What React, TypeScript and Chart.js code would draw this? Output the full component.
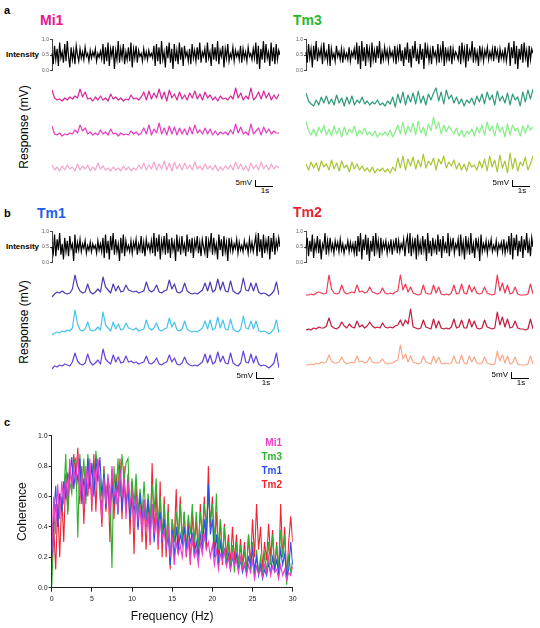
import React, { useEffect, useRef } from "react";
import { Chart, registerables } from "chart.js";
Chart.register(...registerables);

const FONT = "'Liberation Sans', Arial, Helvetica, sans-serif";

// ---------- intensity stimulus traces (0..1) ----------
const intensityMi1 = [
  0.55,0.2,0.8,0.35,0.7,0.15,0.9,0.4,0.6,0.25,0.85,0.3,0.95,0.45,0.1,0.75,0.35,0.65,0.2,0.8,
  0.5,0.3,0.7,0.4,0.6,0.35,0.75,0.45,0.55,0.3,0.65,0.4,0.6,0.45,0.7,0.3,0.55,0.42,0.62,0.38,
  0.85,0.2,0.75,0.3,0.9,0.15,0.7,0.45,0.8,0.05,0.65,0.35,0.95,0.25,0.7,0.4,0.85,0.2,0.6,0.35,
  0.75,0.3,0.9,0.1,0.7,0.4,0.8,0.25,0.65,0.45,0.55,0.3,0.7,0.4,0.6,0.35,0.65,0.45,0.55,0.4,
  0.8,0.15,0.85,0.3,0.75,0.2,0.95,0.35,0.6,0.1,0.8,0.4,0.9,0.25,0.7,0.05,0.85,0.3,0.65,0.2,
  0.9,0.35,0.75,0.15,0.8,0.45,0.6,0.3,0.7,0.2,0.85,0.4,0.65,0.3,0.75,0.35,0.9,0.25,0.6,0.45,
  0.7,0.25,0.9,0.4,0.6,0.15,0.85,0.35,0.75,0.3,0.95,0.2,0.65,0.45,0.8,0.1,0.7,0.4,0.85,0.3,
  0.55,0.4,0.75,0.3,0.65,0.45,0.6,0.35,0.8,0.25,0.7,0.4,0.6,0.3,0.75,0.45,0.55,0.35,0.7,0.4,
  0.9,0.2,0.8,0.05,0.7,0.35,0.95,0.25,0.85,0.4,0.6,0.15,0.9,0.3,0.75,0.2,0.85,0.35,0.65,0.5,
];
const intensityTm3 = [
  0.6,0.25,0.85,0.4,0.7,0.1,0.8,0.35,0.95,0.3,0.65,0.45,0.75,0.2,0.9,0.4,0.6,0.3,0.85,0.15,
  0.7,0.4,0.55,0.3,0.8,0.45,0.6,0.35,0.7,0.25,0.65,0.4,0.55,0.35,0.75,0.3,0.6,0.45,0.7,0.35,
  0.9,0.2,0.8,0.05,0.95,0.3,0.75,0.15,0.85,0.4,0.7,0.1,0.9,0.35,0.65,0.25,0.8,0.4,0.95,0.2,
  0.6,0.35,0.75,0.4,0.65,0.3,0.7,0.45,0.6,0.35,0.8,0.2,0.7,0.4,0.85,0.3,0.65,0.15,0.75,0.35,
  0.9,0.25,0.7,0.1,0.8,0.4,0.95,0.3,0.6,0.2,0.85,0.35,0.7,0.05,0.9,0.4,0.75,0.3,0.65,0.2,
  0.8,0.45,0.6,0.3,0.85,0.25,0.7,0.4,0.95,0.15,0.75,0.35,0.65,0.3,0.8,0.2,0.7,0.4,0.6,0.5,
  0.35,0.8,0.2,0.9,0.4,0.7,0.1,0.85,0.3,0.65,0.45,0.95,0.25,0.75,0.35,0.6,0.15,0.8,0.4,0.7,
  0.3,0.65,0.45,0.75,0.35,0.6,0.4,0.7,0.3,0.8,0.45,0.65,0.25,0.7,0.4,0.6,0.35,0.75,0.3,0.6,
  0.9,0.15,0.75,0.4,0.95,0.2,0.8,0.05,0.7,0.35,0.85,0.25,0.9,0.4,0.65,0.1,0.8,0.35,0.7,0.55,
];
const intensityTm1 = [
  0.5,0.3,0.9,0.2,0.75,0.4,0.95,0.25,0.6,0.1,0.8,0.35,0.7,0.2,0.85,0.45,0.6,0.05,0.9,0.3,
  0.65,0.4,0.75,0.35,0.6,0.45,0.7,0.3,0.55,0.4,0.65,0.35,0.6,0.45,0.55,0.3,0.7,0.4,0.6,0.35,
  0.8,0.15,0.9,0.3,0.7,0.1,0.85,0.4,0.95,0.25,0.75,0.35,0.6,0.05,0.8,0.3,0.9,0.2,0.7,0.4,
  0.55,0.35,0.7,0.3,0.65,0.45,0.75,0.25,0.6,0.4,0.85,0.3,0.65,0.2,0.75,0.45,0.6,0.35,0.7,0.3,
  0.95,0.2,0.8,0.35,0.9,0.1,0.7,0.4,0.85,0.25,0.95,0.3,0.75,0.15,0.8,0.4,0.65,0.05,0.9,0.35,
  0.7,0.25,0.85,0.4,0.6,0.2,0.9,0.35,0.75,0.3,0.8,0.15,0.7,0.45,0.85,0.3,0.65,0.2,0.75,0.5,
  0.3,0.85,0.15,0.7,0.45,0.95,0.25,0.8,0.35,0.6,0.1,0.9,0.4,0.75,0.2,0.85,0.35,0.65,0.05,0.8,
  0.4,0.7,0.35,0.6,0.45,0.75,0.3,0.65,0.4,0.55,0.35,0.7,0.45,0.6,0.3,0.75,0.4,0.65,0.35,0.6,
  0.85,0.2,0.95,0.35,0.75,0.15,0.9,0.3,0.7,0.4,0.85,0.1,0.8,0.35,0.95,0.25,0.7,0.45,0.8,0.5,
];
const intensityTm2 = [
  0.45,0.8,0.2,0.7,0.35,0.9,0.15,0.65,0.4,0.85,0.3,0.75,0.1,0.6,0.45,0.95,0.25,0.7,0.35,0.8,
  0.4,0.6,0.3,0.7,0.45,0.65,0.35,0.75,0.4,0.6,0.3,0.55,0.45,0.7,0.35,0.65,0.4,0.6,0.3,0.7,
  0.2,0.85,0.35,0.95,0.1,0.75,0.4,0.9,0.25,0.8,0.05,0.7,0.35,0.85,0.2,0.95,0.4,0.7,0.15,0.8,
  0.35,0.65,0.45,0.7,0.3,0.6,0.4,0.75,0.25,0.65,0.45,0.8,0.3,0.7,0.35,0.6,0.45,0.75,0.2,0.65,
  0.85,0.3,0.95,0.2,0.7,0.4,0.8,0.1,0.9,0.35,0.65,0.25,0.85,0.4,0.75,0.05,0.95,0.3,0.7,0.2,
  0.8,0.4,0.65,0.25,0.9,0.35,0.75,0.15,0.85,0.4,0.6,0.3,0.95,0.2,0.7,0.45,0.8,0.3,0.6,0.45,
  0.75,0.2,0.9,0.35,0.65,0.1,0.85,0.4,0.7,0.25,0.95,0.3,0.6,0.15,0.8,0.45,0.7,0.05,0.9,0.35,
  0.6,0.4,0.7,0.3,0.65,0.45,0.75,0.35,0.55,0.4,0.7,0.3,0.6,0.45,0.65,0.35,0.75,0.3,0.6,0.4,
  0.85,0.25,0.95,0.1,0.8,0.4,0.9,0.2,0.7,0.35,0.85,0.15,0.75,0.4,0.95,0.3,0.65,0.2,0.8,0.5,
];

// ---------- membrane responses (mV, relative) ----------
const mi1Resp1 = [14,6,4,5,3,6,4,7,5,8,6,15,7,12,5,6,3,7,4,8,4,6,3,10,5,7,4,6,3,5,4,9,5,6,4,7,
  12,4,13,5,11,6,15,5,12,3,14,6,10,4,12,5,9,4,11,6,13,5,10,4,12,
  6,9,4,7,3,8,5,6,4,8,5,16,6,11,4,8,5,16,4,7,12,5,13,6,11,4,9,5,10];
const mi1Resp2 = [13,5,4,6,3,5,4,6,5,9,6,14,8,11,5,7,4,6,4,9,5,7,4,10,5,6,3,6,4,5,4,8,5,7,4,6,
  11,5,14,4,10,6,16,5,11,4,13,5,12,4,11,5,10,4,12,5,14,6,9,5,11,
  5,10,4,8,4,7,5,7,4,9,5,15,6,12,5,7,4,15,5,8,11,4,12,6,10,5,8,6,6];
const mi1Resp3 = [9,4,7,3,8,4,9,5,7,3,10,4,8,5,9,3,7,4,11,5,8,4,6,3,7,4,6,3,8,4,7,3,6,4,9,5,
  11,4,9,5,12,4,10,5,13,4,11,3,12,5,10,4,11,5,9,4,12,5,8,4,10,
  5,8,4,9,3,7,4,8,5,9,4,12,5,10,4,8,3,11,5,9,4,12,5,9,4,10,5,8,6];

const tm3Resp1 = [16,8,5,3,9,4,12,6,13,5,10,4,14,6,11,3,12,5,13,4,9,6,12,5,8,4,7,5,9,4,6,3,8,5,12,2,
  15,6,17,4,14,7,16,5,18,6,13,4,15,9,16,21,8,17,5,19,10,14,
  6,12,5,10,3,9,6,11,4,13,7,15,
  5,17,9,14,4,18,8,13,6,16,4,15,9,12,3,17,7,19,10,20];
const tm3Resp2 = [20,10,6,12,5,14,8,16,6,12,5,15,7,13,4,14,6,12,8,15,5,11,7,13,6,9,5,10,4,8,6,9,5,11,4,9,
  16,7,19,6,15,9,18,6,20,8,14,5,17,10,24,12,19,7,16,9,15,11,
  7,13,5,11,4,10,7,12,5,14,8,16,
  6,19,10,15,5,18,9,14,4,17,6,16,10,13,5,15,8,16,11,14];
const tm3Resp3 = [12,6,14,8,13,5,15,9,12,6,16,7,13,5,15,8,11,4,14,7,12,6,10,5,8,4,9,3,7,5,8,4,7,3,9,5,
  18,8,20,6,17,10,19,7,16,9,22,8,15,11,18,6,17,12,20,8,14,10,
  16,7,13,6,12,5,14,9,11,6,15,8,
  17,5,20,9,16,4,21,8,15,3,23,7,18,5,14,10,19,6,12,20];

const tm1Resp1 = [2,5,7,6,8,6,5,6,10,24,13,8,6,7,15,7,5,7,10,7,22,12,9,6,15,8,13,7,8,14,
  9,8,7,8,6,7,8,17,9,7,9,14,7,6,8,9,19,10,15,7,6,8,16,8,6,5,6,5,7,9,
  16,8,17,7,9,20,9,17,8,7,18,8,6,5,8,21,9,8,16,8,16,7,5,6,5,3,5,8,17,4];
const tm1Resp2 = [1,3,4,3,5,4,6,5,8,26,12,6,5,7,14,6,5,6,9,6,24,11,8,5,14,7,12,6,7,13,
  8,7,6,8,5,6,7,16,8,6,8,13,6,5,7,8,18,9,14,6,5,7,15,7,5,4,5,4,6,8,
  15,7,16,6,8,19,8,16,7,6,17,7,5,4,7,20,8,7,15,7,15,6,4,5,4,2,4,7,16,3];
const tm1Resp3 = [2,5,4,6,5,7,6,5,9,18,10,7,6,8,17,9,6,8,11,7,22,12,9,7,16,9,14,8,9,15,
  9,10,8,9,7,8,9,15,8,7,9,13,7,6,8,9,16,9,13,7,6,8,14,8,6,5,6,5,7,9,
  17,8,16,7,9,19,9,15,8,7,18,8,6,5,8,20,9,8,17,8,15,7,5,6,5,3,5,8,18,3];

const tm2Resp1 = [2,2,3,2,4,5,4,3,4,22, 8,4,3,4,12,5,3,4,5,4, 12,5,6,4,5,10,5,4,3,4,
  9,4,3,4,3,5,6,22,7,13, 5,10,4,3,2,3,12,4,3,3, 12,4,10,3,2,3,2,4,12,3,
  4,13,4,3,12,5,10,4,3,4, 10,4,3,2,3,22,6,14,4,12, 3,4,10,3,2,2,2,3,13,3];
const tm2Resp2 = [2,3,2,4,3,5,4,4,6,14, 6,4,3,5,10,6,4,8,5,4, 11,5,7,4,6,10,6,4,5,4,
  9,5,4,5,4,6,7,12,6,12, 8,23,5,4,3,4,12,5,4,3, 13,4,11,4,3,4,3,5,13,4,
  5,12,4,4,13,5,11,4,3,4, 12,5,4,3,4,20,7,15,5,13, 4,5,11,4,3,3,2,3,13,3];
const tm2Resp3 = [2,2,3,2,4,3,5,4,5,12, 6,4,4,5,10,5,3,4,5,4, 11,5,6,4,5,10,5,4,4,5,
  8,4,3,4,4,6,7,22,8,13, 5,11,5,4,3,4,11,5,4,3, 11,4,10,4,3,4,3,4,11,4,
  4,12,4,3,11,5,10,4,3,4, 10,4,3,2,3,16,6,12,4,11, 3,4,10,3,2,2,2,3,11,3];

// ---------- coherence (0..30 Hz, 0.25 Hz bins) ----------
const cohMi1 = [0.25,0.6,0.35,0.68,0.45,0.7,0.55,0.72,0.6,
  0.85,0.65,0.78,0.7,0.88,0.6,0.75,0.52, 0.8,0.62,0.85,0.55,0.78,0.68,0.84,0.6,
  0.45,0.72,0.55,0.75,0.48,0.8,0.6,0.65, 0.5,0.78,0.6,0.72,0.45,0.7,0.55,0.62,
  0.4,0.6,0.45,0.55,0.35,0.58,0.4,0.5, 0.3,0.55,0.35,0.48,0.28,0.45,0.32,0.38,
  0.25,0.4,0.2,0.35,0.15,0.3,0.22,0.28, 0.2,0.35,0.22,0.3,0.18,0.32,0.2,0.25,
  0.15,0.3,0.22,0.35,0.25,0.3,0.2,0.28, 0.15,0.25,0.12,0.22,0.18,0.24,0.14,0.2,
  0.12,0.22,0.15,0.18,0.1,0.2,0.12,0.16, 0.08,0.15,0.1,0.18,0.06,0.14,0.09,0.12,
  0.07,0.15,0.1,0.2,0.08,0.14,0.1,0.12, 0.06,0.15,0.08,0.12,0.05,0.1,0.08,0.14];
const cohTm1 = [0.2,0.45,0.67,0.4,0.62,0.5,0.7,0.58,0.75,
  0.72,0.86,0.65,0.8,0.7,0.85,0.55,0.72, 0.6,0.85,0.65,0.82,0.6,0.85,0.7,0.86,
  0.6,0.75,0.52,0.72,0.5,0.68,0.55,0.7, 0.48,0.78,0.5,0.7,0.55,0.65,0.45,0.62,
  0.5,0.6,0.38,0.62,0.45,0.55,0.4,0.58, 0.35,0.55,0.3,0.48,0.4,0.5,0.3,0.45,
  0.25,0.35,0.15,0.38,0.2,0.4,0.25,0.35, 0.28,0.4,0.25,0.38,0.3,0.35,0.22,0.3,
  0.2,0.35,0.25,0.45,0.3,0.68,0.35,0.45, 0.2,0.35,0.15,0.3,0.2,0.25,0.15,0.22,
  0.12,0.2,0.15,0.22,0.12,0.18,0.1,0.15, 0.1,0.2,0.15,0.25,0.12,0.2,0.08,0.15,
  0.06,0.12,0.08,0.16,0.1,0.2,0.12,0.18, 0.1,0.25,0.15,0.22,0.08,0.12,0.3,0.15];
const cohTm3 = [0.0,0.35,0.55,0.42,0.62,0.5,0.6,0.88,0.48,
  0.7,0.62,0.82,0.85,0.33,0.88,0.6,0.85, 0.55,0.88,0.7,0.8,0.62,0.9,0.75,0.72,
  0.5,0.78,0.6,0.72,0.65,0.13,0.8,0.55, 0.85,0.6,0.88,0.7,0.82,0.85,0.5,0.72,
  0.55,0.75,0.5,0.65,0.48,0.7,0.45,0.62, 0.45,0.68,0.5,0.72,0.42,0.6,0.35,0.55,
  0.3,0.5,0.15,0.45,0.3,0.5,0.35,0.55, 0.3,0.5,0.25,0.48,0.35,0.55,0.3,0.5,
  0.25,0.5,0.35,0.55,0.4,0.6,0.45,0.55, 0.3,0.62,0.25,0.45,0.2,0.4,0.15,0.3,
  0.12,0.28,0.1,0.3,0.15,0.28,0.12,0.25, 0.1,0.35,0.12,0.3,0.05,0.25,0.1,0.2,
  0.08,0.22,0.1,0.3,0.15,0.35,0.1,0.28, 0.12,0.38,0.2,0.35,0.02,0.22,0.1,0.18];
const cohTm2 = [0.1,0.4,0.12,0.55,0.2,0.6,0.3,0.75,0.5,
  0.8,0.68,0.88,0.72,0.92,0.55,0.8,0.42, 0.75,0.6,0.82,0.5,0.88,0.5,0.85,0.65,
  0.4,0.8,0.5,0.72,0.3,0.78,0.45,0.75, 0.62,0.85,0.45,0.8,0.5,0.75,0.35,0.7,
  0.22,0.68,0.4,0.6,0.3,0.58,0.25,0.55, 0.28,0.82,0.35,0.65,0.25,0.7,0.2,0.6,
  0.2,0.55,0.12,0.45,0.3,0.65,0.22,0.6, 0.3,0.5,0.2,0.45,0.15,0.5,0.25,0.45,
  0.22,0.55,0.3,0.6,0.25,0.8,0.4,0.6, 0.25,0.5,0.2,0.45,0.15,0.42,0.2,0.35,
  0.15,0.4,0.18,0.35,0.12,0.32,0.15,0.3, 0.1,0.35,0.15,0.45,0.2,0.55,0.25,0.4,
  0.12,0.3,0.18,0.42,0.2,0.38,0.12,0.3, 0.08,0.55,0.2,0.4,0.05,0.3,0.47,0.3];
const cohFreq = cohMi1.map((_, i) => i * 0.25);
const cohTicksX = [0, 5, 10, 15, 20, 25, 30];

const C = {
  mi1: "#e8158f", tm3: "#28b828", tm1: "#1e5ee6", tm2: "#e8222c",
};

type Cfg = any;

function ChartCanvas({ left, top, width, height, config }: { left: number; top: number; width: number; height: number; config: () => Cfg }) {
  const ref = useRef<HTMLCanvasElement>(null);
  useEffect(() => {
    const chart = new Chart(ref.current as HTMLCanvasElement, config());
    return () => chart.destroy();
  }, []);
  return (
    <canvas ref={ref} width={width} height={height}
      style={{ position: "absolute", left, top, width, height, display: "block" }} />
  );
}

function traceConfig(values: number[], color: string, lw = 1.2): Cfg {
  return {
    type: "line",
    data: {
      labels: values.map((_, i) => i),
      datasets: [{ data: values, borderColor: color, borderWidth: lw, borderJoinStyle: "round", pointRadius: 0, tension: 0, clip: false }],
    },
    options: {
      animation: false, responsive: false, events: [],
      layout: { padding: 0 },
      plugins: { legend: { display: false }, tooltip: { enabled: false } },
      scales: {
        x: { display: false, offset: false },
        y: { display: false, min: -4, max: 28 },
      },
    },
  };
}

function intensityConfig(values: number[]): Cfg {
  return {
    type: "line",
    data: {
      labels: values.map((_, i) => i),
      datasets: [{ data: values, borderColor: "#000", borderWidth: 1.2, pointRadius: 0, tension: 0, clip: false }],
    },
    options: {
      animation: false, responsive: false, events: [],
      layout: { padding: { top: 4.5, bottom: 4.5, left: 0, right: 0 } },
      plugins: { legend: { display: false }, tooltip: { enabled: false } },
      scales: {
        x: { display: false, offset: false },
        y: {
          min: 0, max: 1,
          afterFit: (s: any) => { s.width = 16; },
          ticks: { stepSize: 0.5, callback: (v: any) => Number(v).toFixed(1), font: { size: 5, family: FONT }, color: "#555", padding: 1 },
          grid: { drawOnChartArea: false, tickLength: 2, color: "#444" },
          border: { display: true, color: "#444", width: 1 },
        },
      },
    },
  };
}

function coherenceConfig(): Cfg {
  const mk = (label: string, d: number[], color: string) => ({
    label, data: d, borderColor: color, borderWidth: 1.1, pointRadius: 0, tension: 0,
  });
  return {
    type: "line",
    data: {
      labels: cohFreq,
      datasets: [
        mk("Mi1", cohMi1, "#f03cc8"),
        mk("Tm1", cohTm1, "#2a50ee"),
        mk("Tm3", cohTm3, "#2eb02e"),
        mk("Tm2", cohTm2, "#ee2434"),
      ],
    },
    options: {
      animation: false, responsive: false, events: [],
      layout: { padding: { top: 10.7, right: 7.3, left: 0, bottom: 0 } },
      plugins: { legend: { display: false }, tooltip: { enabled: false } },
      scales: {
        x: {
          type: "linear", min: 0, max: 30,
          afterFit: (s: any) => { s.height = 40.3; },
          afterBuildTicks: (s: any) => { s.ticks = cohTicksX.map((v) => ({ value: v })); },
          ticks: { font: { size: 7, family: FONT }, color: "#222", padding: 3, maxRotation: 0 },
          grid: { drawOnChartArea: false, tickLength: 4, color: "#222" },
          border: { display: true, color: "#222", width: 1 },
          title: { display: true, text: "Frequency (Hz)", font: { size: 12, family: FONT }, color: "#111", padding: { top: 0, bottom: 3.8 } },
        },
        y: {
          min: 0, max: 1,
          afterFit: (s: any) => { s.width = 51.7; },
          ticks: { stepSize: 0.2, callback: (v: any) => Number(v).toFixed(1), font: { size: 7, family: FONT }, color: "#222", padding: 1 },
          grid: { drawOnChartArea: false, tickLength: 3, color: "#222" },
          border: { display: true, color: "#222", width: 1 },
          title: { display: true, text: "Coherence", font: { size: 12, family: FONT }, color: "#111", padding: { top: 15.8, bottom: 0 } },
        },
      },
    },
  };
}

function Txt({ x, y, text, size, bold, color = "#000", align = "left", rotate = false }: any) {
  const tx = align === "left" ? "0" : align === "right" ? "-100%" : "-50%";
  return (
    <div style={{
      position: "absolute", left: x, top: y, fontFamily: FONT, fontSize: size,
      fontWeight: bold ? "bold" : "normal", color, lineHeight: 1, whiteSpace: "nowrap",
      transform: rotate ? "translate(-50%,-50%) rotate(-90deg)" : `translate(${tx},-50%)`,
    }}>{text}</div>
  );
}

function ScaleBar({ x, y, textY }: { x: number; y: number; textY: number }) {
  return (
    <>
      <Txt x={x - 3} y={textY} text="5mV" size={8} align="right" />
      <div style={{ position: "absolute", left: x, top: y - 5.5, width: 0, height: 5.5, borderLeft: "1px solid #000" }} />
      <div style={{ position: "absolute", left: x, top: y, width: 18, height: 0, borderTop: "1px solid #000" }} />
      <Txt x={x + 10} y={y + 5.5} text="1s" size={8} align="center" />
    </>
  );
}

export default function App() {
  const LX = 52, RX = 306, TW = 227, TH = 32;
  return (
    <div style={{ position: "fixed", left: 0, top: 0, width: 540, height: 628, background: "#fff", overflow: "hidden" }}>
      {/* panel a */}
      <Txt x={4} y={10} text="a" size={11} bold />
      <Txt x={40} y={20} text="Mi1" size={14} bold color={C.mi1} />
      <Txt x={293} y={20} text="Tm3" size={14} bold color={C.tm3} />
      <Txt x={39} y={55} text="Intensity" size={8} bold align="right" />
      <ChartCanvas left={36} top={35} width={244} height={40} config={() => intensityConfig(intensityMi1)} />
      <ChartCanvas left={290} top={35} width={243} height={40} config={() => intensityConfig(intensityTm3)} />
      <Txt x={24} y={127} text="Response (mV)" size={12} rotate />
      <ChartCanvas left={LX} top={76} width={TW} height={TH} config={() => traceConfig(mi1Resp1, "#d6279a")} />
      <ChartCanvas left={LX} top={111} width={TW} height={TH} config={() => traceConfig(mi1Resp2, "#e23fc0")} />
      <ChartCanvas left={LX} top={146} width={TW} height={TH} config={() => traceConfig(mi1Resp3, "#f3a6cc")} />
      <ChartCanvas left={RX} top={81} width={TW} height={TH} config={() => traceConfig(tm3Resp1, "#2e9b7e")} />
      <ChartCanvas left={RX} top={113} width={TW} height={TH} config={() => traceConfig(tm3Resp2, "#86ee86")} />
      <ChartCanvas left={RX} top={148} width={TW} height={TH} config={() => traceConfig(tm3Resp3, "#a6c634")} />
      <ScaleBar x={255} y={185.5} textY={183} />
      <ScaleBar x={512} y={185.5} textY={183} />

      {/* panel b */}
      <Txt x={4} y={213} text="b" size={11} bold />
      <Txt x={37} y={213} text="Tm1" size={14} bold color={C.tm1} />
      <Txt x={293} y={212} text="Tm2" size={14} bold color={C.tm2} />
      <Txt x={39} y={247} text="Intensity" size={8} bold align="right" />
      <ChartCanvas left={36} top={227} width={244} height={40} config={() => intensityConfig(intensityTm1)} />
      <ChartCanvas left={290} top={227} width={243} height={40} config={() => intensityConfig(intensityTm2)} />
      <Txt x={24} y={322} text="Response (mV)" size={12} rotate />
      <ChartCanvas left={LX} top={271} width={TW} height={TH} config={() => traceConfig(tm1Resp1, "#5138b4")} />
      <ChartCanvas left={LX} top={308} width={TW} height={TH} config={() => traceConfig(tm1Resp2, "#45c3ea")} />
      <ChartCanvas left={LX} top={343} width={TW} height={TH} config={() => traceConfig(tm1Resp3, "#6643d8")} />
      <ChartCanvas left={RX} top={269} width={TW} height={TH} config={() => traceConfig(tm2Resp1, "#ee3a55")} />
      <ChartCanvas left={RX} top={304} width={TW} height={TH} config={() => traceConfig(tm2Resp2, "#c21a3c")} />
      <ChartCanvas left={RX} top={339} width={TW} height={TH} config={() => traceConfig(tm2Resp3, "#f8a888")} />
      <ScaleBar x={256} y={377.5} textY={376} />
      <ScaleBar x={511} y={377.5} textY={375} />

      {/* panel c */}
      <Txt x={4} y={422} text="c" size={11} bold />
      <ChartCanvas left={0} top={425} width={300} height={203} config={coherenceConfig} />
      <Txt x={282} y={443} text="Mi1" size={10} bold color="#f03cc8" align="right" />
      <Txt x={282} y={457} text="Tm3" size={10} bold color="#2eb02e" align="right" />
      <Txt x={282} y={471} text="Tm1" size={10} bold color="#2a50ee" align="right" />
      <Txt x={282} y={485} text="Tm2" size={10} bold color="#ee2434" align="right" />
    </div>
  );
}
